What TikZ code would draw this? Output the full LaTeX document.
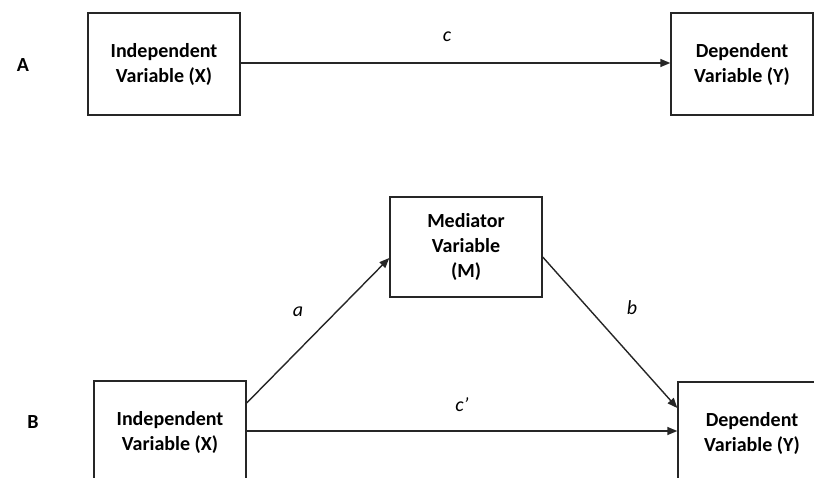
\documentclass[tikz,border=0pt]{standalone}
\usepackage{fontspec}
\setmainfont{Carlito}
\usetikzlibrary{arrows.meta}
\tikzset{
  varbox/.style={draw=black!85, line width=1.4pt, align=center, font=\bfseries,
    inner sep=0pt, minimum width=152pt, minimum height=102pt},
  conn/.style={draw=black!85, line width=1.4pt, -{Triangle[length=10pt,width=8pt]}},
  plabel/.style={font=\itshape, inner sep=0pt},
  panel/.style={font=\bfseries, inner sep=0pt}
}
\begin{document}
\begin{tikzpicture}[x=1pt,y=-1pt]
\fontsize{20}{25}\selectfont
\useasboundingbox (0,0) rectangle (814,477);
\clip (0,0) rectangle (814,477);
% Panel A
\node[panel] (labA) at (23,65) {A};
\node[varbox] (Xa) at (164,64) {Independent\\Variable (X)};
\node[varbox, minimum width=142pt] (Ya) at (742,64) {Dependent\\Variable (Y)};
\draw[conn] ([yshift=1pt]Xa.east) -- ([yshift=1pt]Ya.west);
\node[plabel] (lc) at (447,37) {c};
% Panel B
\node[panel] (labB) at (33,422) {B};
\node[varbox] (Xb) at (170,432) {Independent\\Variable (X)};
\node[varbox, minimum height=100pt] (Mb) at (466,247) {Mediator\\Variable\\(M)};
\node[varbox, minimum width=148pt] (Yb) at (752,433) {Dependent\\Variable (Y)};
\draw[conn] ([yshift=29pt]Xb.east) -- ([yshift=-11pt]Mb.west);
\draw[conn] ([yshift=-10pt]Mb.east) -- ([yshift=25pt]Yb.west);
\draw[conn] ([yshift=1pt]Xb.east) -- ([yshift=1pt]Xb.east -| Yb.west);
\node[plabel] (la) at (298,312) {a};
\node[plabel] (lb) at (632,308) {b};
\node[plabel] (lcp) at (462,405) {c’};
\end{tikzpicture}
\end{document}
